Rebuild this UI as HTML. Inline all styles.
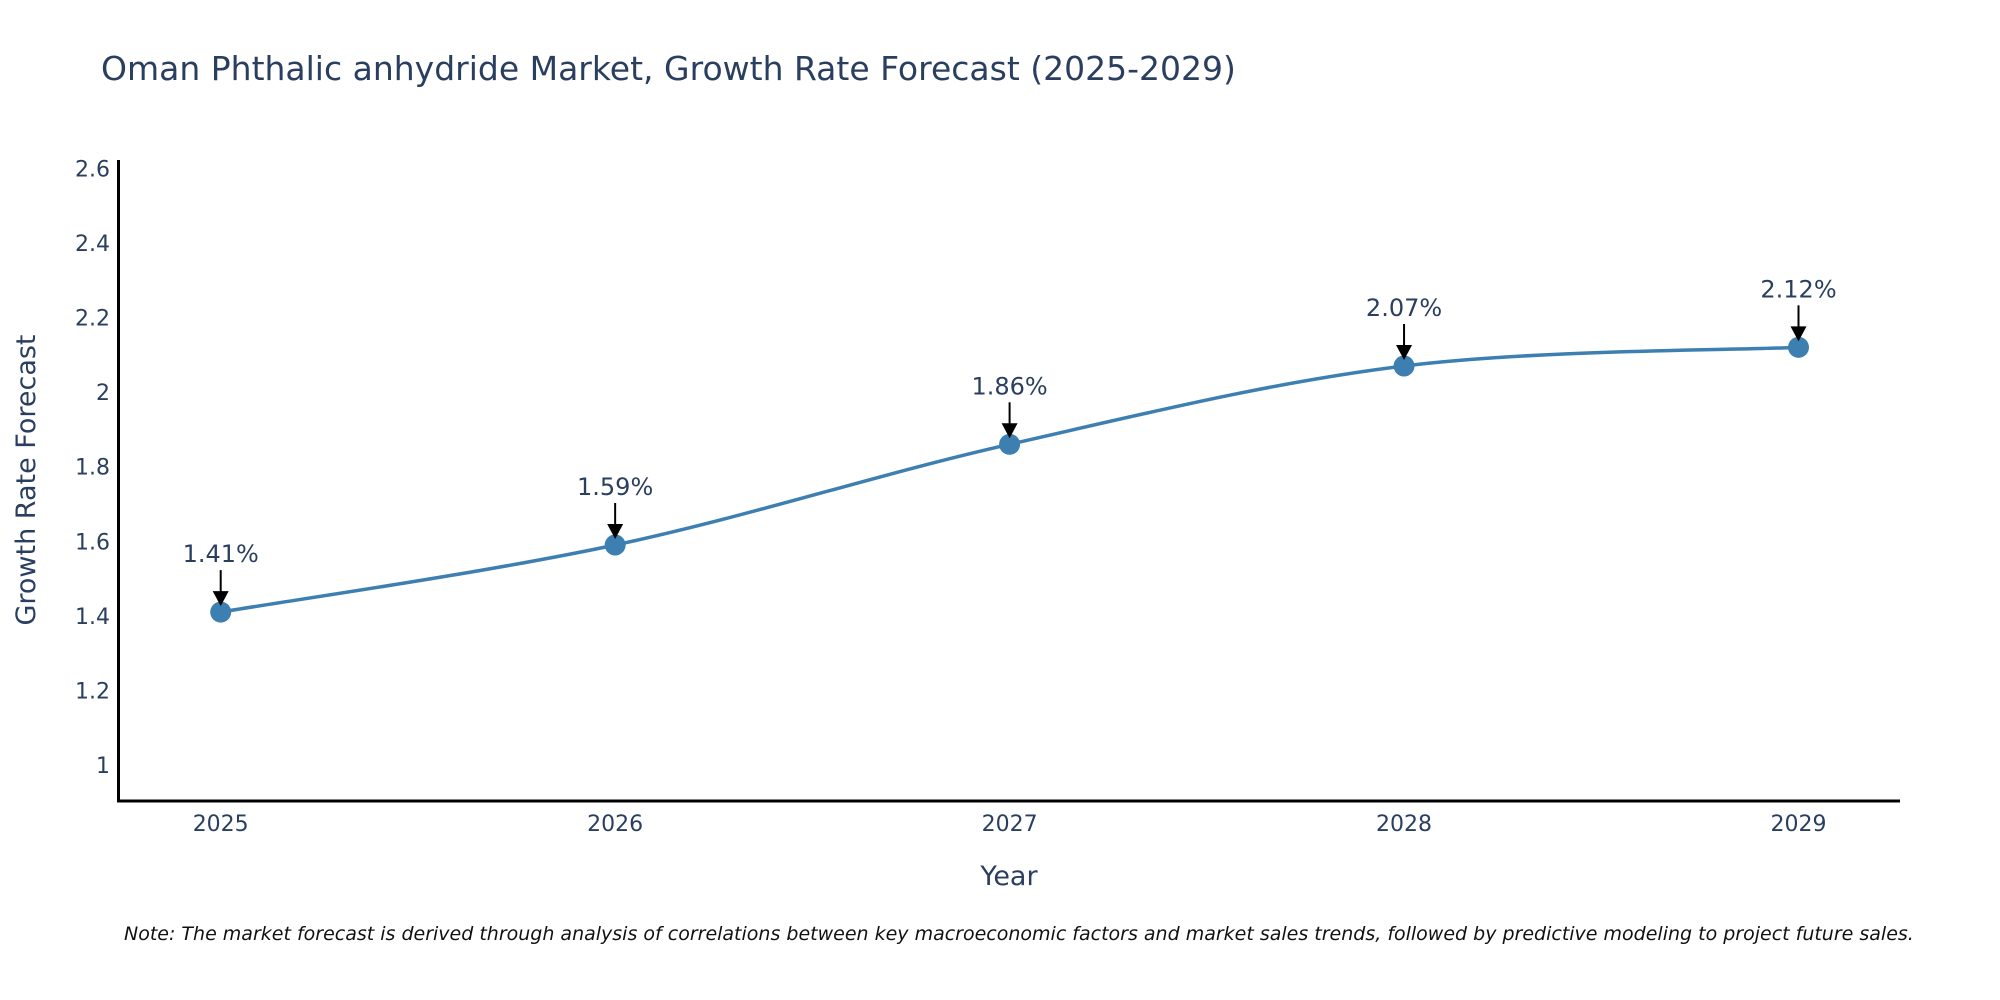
<!DOCTYPE html>
<html><head><meta charset="utf-8"><style>
html,body{margin:0;padding:0;background:#fff;}
svg{display:block;font-family:"DejaVu Sans","Liberation Sans",sans-serif;}
</style></head><body>
<svg id="chart" width="2000" height="1000" viewBox="0 0 2000 1000" xmlns="http://www.w3.org/2000/svg">
<text x="101" y="80" font-size="33" fill="#2a3f5f">Oman Phthalic anhydride Market, Growth Rate Forecast (2025-2029)</text>
<g id="yticks"></g>
<g id="xticks"></g>
<path id="line" fill="none" stroke="#3d7fb0" stroke-width="3.5"/>
<g id="points"></g>
<g id="annots"></g>
<line x1="118.5" y1="160" x2="118.5" y2="802" stroke="#000" stroke-width="3"/>
<line x1="117" y1="801" x2="1900" y2="801" stroke="#000" stroke-width="3"/>
<text transform="translate(35,480) rotate(-90)" text-anchor="middle" font-size="27" fill="#2a3f5f">Growth Rate Forecast</text>
<text x="1009" y="885" text-anchor="middle" font-size="27" fill="#2a3f5f">Year</text>
<text x="124" y="940" font-size="19" font-style="italic" fill="#111">Note: The market forecast is derived through analysis of correlations between key macroeconomic factors and market sales trends, followed by predictive modeling to project future sales.</text>
</svg>
<script>
const years = [2025, 2026, 2027, 2028, 2029];
const values = [1.41, 1.59, 1.86, 2.07, 2.12];
const labels = ["1.41%", "1.59%", "1.86%", "2.07%", "2.12%"];
const yTicks = [1, 1.2, 1.4, 1.6, 1.8, 2, 2.2, 2.4, 2.6];
const yTickLabels = ["1", "1.2", "1.4", "1.6", "1.8", "2", "2.2", "2.4", "2.6"];

const NS = "http://www.w3.org/2000/svg";
const xScale = i => 220.7 + (1798.5 - 220.7) * (i - years[0]) / (years[years.length-1] - years[0]);
const yScale = v => 765 - (v - 1) * 372.9;
function mk(tag, attrs, parent){const e=document.createElementNS(NS,tag);for(const k in attrs)e.setAttribute(k,attrs[k]);parent.appendChild(e);return e;}

const yt = document.getElementById('yticks');
yTicks.forEach((v,i)=>{
  const t = mk('text',{x:110,y:yScale(v)+8,'text-anchor':'end','font-size':22,fill:'#2a3f5f'},yt);
  
  
  t.textContent = yTickLabels[i];
});
const xt = document.getElementById('xticks');
years.forEach(y=>{
  const t = mk('text',{x:xScale(y),y:831,'text-anchor':'middle','font-size':22,fill:'#2a3f5f'},xt);
  
  
  t.textContent = String(y);
});

const pts = years.map((y,i)=>[xScale(y), yScale(values[i])]);
let d = `M${pts[0][0]},${pts[0][1]}`;
const sm = 0.17;
for(let i=0;i<pts.length-1;i++){
  const p0=pts[Math.max(0,i-1)], p1=pts[i], p2=pts[i+1], p3=pts[Math.min(pts.length-1,i+2)];
  const c1=[p1[0]+(p2[0]-p0[0])*sm, p1[1]+(p2[1]-p0[1])*sm];
  const c2=[p2[0]-(p3[0]-p1[0])*sm, p2[1]-(p3[1]-p1[1])*sm];
  d += ` C${c1[0]},${c1[1]} ${c2[0]},${c2[1]} ${p2[0]},${p2[1]}`;
}
document.getElementById('line').setAttribute('d', d);

const pg = document.getElementById('points');
const ag = document.getElementById('annots');
pts.forEach((p,i)=>{
  const c = mk('circle',{cx:p[0],cy:p[1],r:10.5,fill:'#3d7fb0'},pg);
  
  
  const ln = mk('line',{x1:p[0],y1:p[1]-42,x2:p[0],y2:p[1]-18,stroke:'#000','stroke-width':2},ag);
  
  
  const hd = mk('path',{d:`M${p[0]-8},${p[1]-21} L${p[0]+8},${p[1]-21} L${p[0]},${p[1]-6} Z`,fill:'#000'},ag);
  
  
  const t = mk('text',{x:p[0],y:p[1]-50,'text-anchor':'middle','font-size':24,fill:'#2a3f5f'},ag);
  
  
  t.textContent = labels[i];
});
</script>
</body></html>
